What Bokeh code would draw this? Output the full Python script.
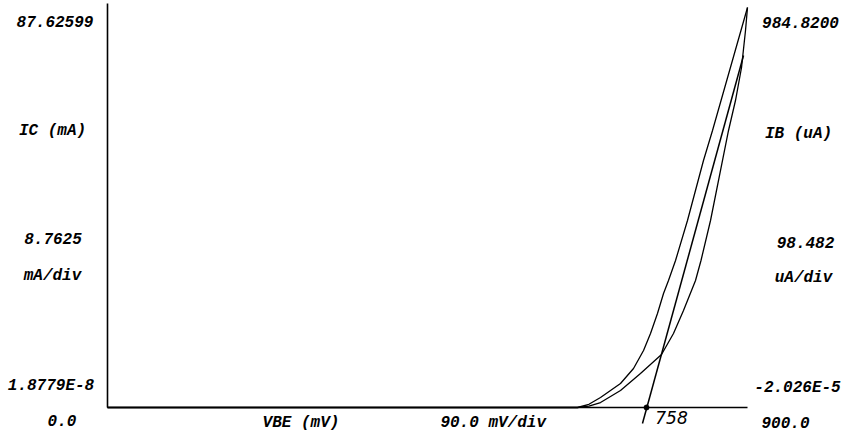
from bokeh.plotting import figure
from bokeh.models import Range1d
from bokeh.core.properties import value
from bokeh.embed import file_html
from bokeh.resources import INLINE

# ---------------- data ----------------
# Collector current IC (mA) vs VBE (mV)
vbe_ic = [0, 660.9, 677.0, 693.3, 721.4, 739.7, 753.8, 763.6, 773.4, 781.9, 788.9,
          798.8, 815.6, 838.1, 850.8, 900.0]
ic_ma = [0, 0, 0.7, 2.19, 5.26, 8.54, 12.49, 16.21, 20.59, 24.97, 27.82,
         32.20, 40.97, 54.11, 60.68, 87.62599]
# Base current IB (uA) vs VBE (mV)
vbe_ib = [0, 660.9, 677.0, 693.3, 721.4, 749.5, 779.1, 795.9, 810.0, 826.9,
          834.6, 848.0, 864.8, 873.3, 883.1, 891.6, 897.2, 900.0]
ib_ua = [0, 0, 3.5, 12.3, 41.9, 83.7, 130.5, 182.2, 238.8, 312.7,
         361.9, 460.4, 608.1, 682.0, 755.8, 837.1, 928.2, 984.82]
# hand-drawn tangent and its intercept
tangent_vbe = [752.3, 894.4]
tangent_ic = [-3.5, 77.1]
vth_mv = [758]
vth_ic = [0]
vth_text = ["758"]

# scale readouts
ic_full = 87.62599      # mA
ib_full = 984.82        # uA
vbe_full = 900.0        # mV
left_texts = ["87.62599", "IC (mA)", "8.7625", "mA/div", "1.8779E-8", "0.0"]
right_texts = ["984.8200", "IB (uA)", "98.482", "uA/div", "-2.026E-5", "900.0"]
bottom_texts = ["VBE (mV)", "90.0  mV/div"]

# ---------------- layout ----------------
W, H = 849, 438
X0, X1 = 107, 747         # canvas px of 0 and full-scale VBE
Y0, Y1 = 407, 7           # canvas px of 0 and full-scale current
mv_per_px = vbe_full / (X1 - X0)
f_per_px = 1.0 / (Y0 - Y1)

x_start = (0 - X0) * mv_per_px
x_end = (W - X0) * mv_per_px
f_top = (Y0 - 0) * f_per_px
f_bot = (Y0 - H) * f_per_px

p = figure(width=W, height=H, output_backend="svg", toolbar_location=None,
           x_range=Range1d(x_start, x_end),
           y_range=Range1d(f_bot * ic_full, f_top * ic_full),
           x_axis_type=None, y_axis_type=None, min_border=0)
p.extra_y_ranges = {"ib": Range1d(f_bot * ib_full, f_top * ib_full)}
p.outline_line_color = None
p.xgrid.visible = False
p.ygrid.visible = False
p.background_fill_color = "white"
p.border_fill_color = "white"


def at(wx, wy):
    """page pixel -> (mV, mA) data position for labels"""
    return (wx - X0) * mv_per_px, (Y0 - wy) * f_per_px * ic_full


# frame lines
p.line([0, 0], [0, 1.01 * ic_full], line_color="black", line_width=1.6)
p.line([0, vbe_full], [0, 0], line_color="black", line_width=1.6)

# curves
p.line(vbe_ic, ic_ma, line_color="black", line_width=1.3)
p.line(vbe_ib, ib_ua, line_color="black", line_width=1.3, y_range_name="ib")
p.line(tangent_vbe, tangent_ic, line_color="black", line_width=1.5)
p.scatter(vth_mv, vth_ic, size=5, color="black")

font = value("Liberation Mono")
fs = "16px"


def put(texts, centers):
    xs, ys = zip(*[at(cx, cy) for cx, cy in centers])
    p.text(x=list(xs), y=list(ys), text=texts, text_font=font,
           text_font_style="bold italic", text_font_size=fs,
           text_align="center", text_baseline="middle", text_color="black")


put(left_texts, [(54.5, 21), (52, 130), (52.5, 238), (52, 275), (50.5, 385), (61.5, 420)])
put(right_texts, [(800, 22), (798, 133), (805, 242), (803, 277), (797, 387), (785, 422)])
put(bottom_texts, [(300.5, 422), (497.5, 422)])

hx, hy = at(671, 417)
p.text(x=[hx], y=[hy], text=vth_text, text_font=value("DejaVu Sans"),
       text_font_style="italic", text_font_size="17px",
       text_align="center", text_baseline="middle", text_color="black")

open("out.html", "w").write(file_html(p, INLINE))
